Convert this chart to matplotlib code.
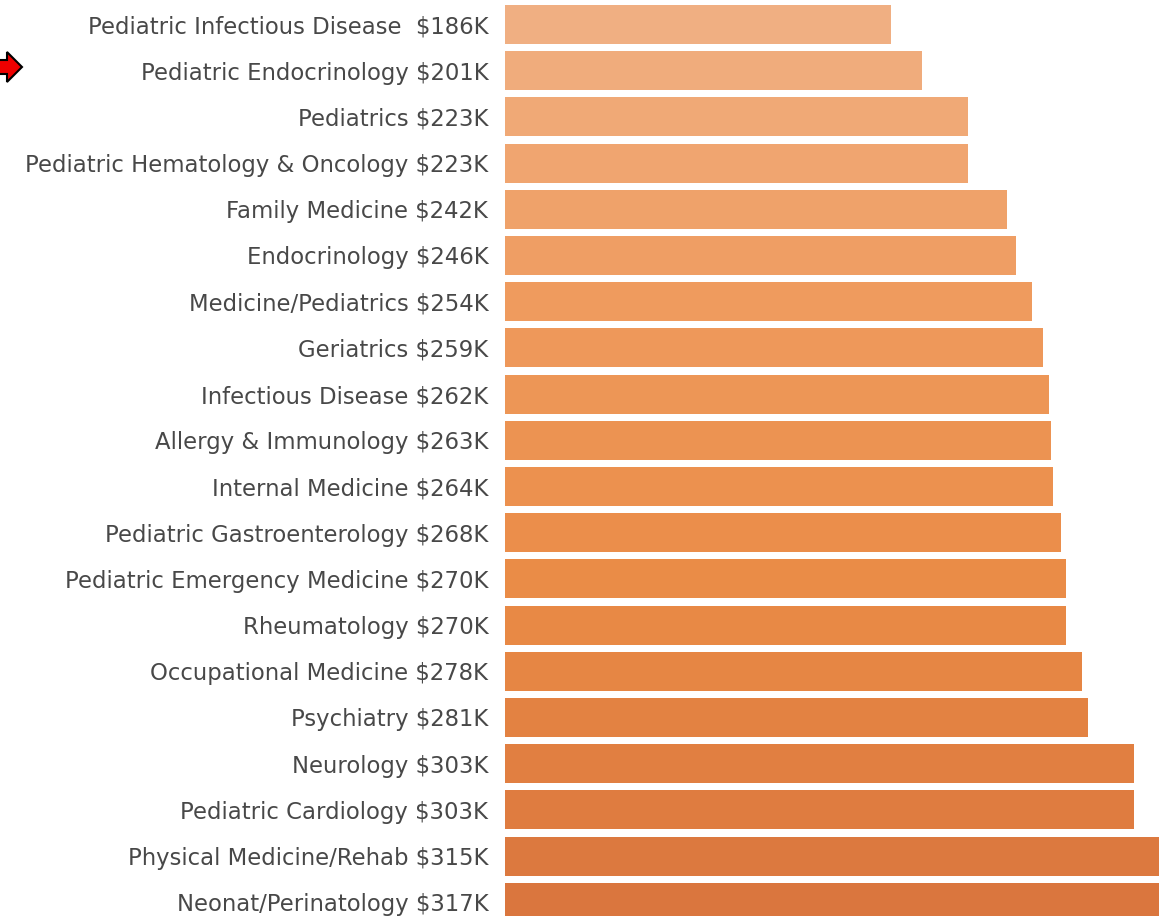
import matplotlib
matplotlib.use('Agg')
import matplotlib.pyplot as plt
from matplotlib.colors import LinearSegmentedColormap
from matplotlib.patches import FancyArrow
import numpy as np

# Specialties and their average salaries (thousands of dollars)
specialties = [
    'Pediatric Infectious Disease ',
    'Pediatric Endocrinology',
    'Pediatrics',
    'Pediatric Hematology & Oncology',
    'Family Medicine',
    'Endocrinology',
    'Medicine/Pediatrics',
    'Geriatrics',
    'Infectious Disease',
    'Allergy & Immunology',
    'Internal Medicine',
    'Pediatric Gastroenterology',
    'Pediatric Emergency Medicine',
    'Rheumatology',
    'Occupational Medicine',
    'Psychiatry',
    'Neurology',
    'Pediatric Cardiology',
    'Physical Medicine/Rehab',
    'Neonat/Perinatology',
]
salaries = [186, 201, 223, 223, 242, 246, 254, 259, 262, 263,
            264, 268, 270, 270, 278, 281, 303, 303, 315, 317]

labels = [f'{name} ${val}K' for name, val in zip(specialties, salaries)]

W, H, DPI = 1159, 916, 100
fig = plt.figure(figsize=(W / DPI, H / DPI), dpi=DPI)

# axes placed in pixel terms: bars start at x=505, row pitch ~46 px
pitch = 46.2
top_px = 1.4
ax_h = pitch * len(salaries)
ax = fig.add_axes([505 / W, (H - top_px - ax_h) / H, (W - 505) / W, ax_h / H])

# light peach at the top to deeper orange at the bottom
cmap = LinearSegmentedColormap.from_list(
    'peach', ['#F0AF82', '#EF9A5C', '#E98A45', '#DA763E'])
colors = cmap(np.linspace(0, 1, len(salaries)))

y = np.arange(len(salaries))
ax.barh(y, salaries, height=0.84, color=colors, edgecolor='none')

ax.set_ylim(len(salaries) - 0.5, -0.5)
ax.set_xlim(0, 315)
ax.set_yticks(y)
ax.set_yticklabels(labels, fontsize=16.4, color='#484848',
                   family=['DejaVu Sans'])
ax.tick_params(axis='y', length=0, pad=12)
ax.set_xticks([])
for s in ax.spines.values():
    s.set_visible(False)

# red pointer arrow at the left edge (second row)
arrow = FancyArrow(-0.12, (H - 67) / DPI, 0.34, 0, width=0.14,
                   head_width=0.30, head_length=0.15,
                   length_includes_head=True, facecolor='#ee0000',
                   edgecolor='black', linewidth=1.5,
                   transform=fig.dpi_scale_trans)
fig.patches.append(arrow)

fig.savefig('out.png', dpi=DPI)
